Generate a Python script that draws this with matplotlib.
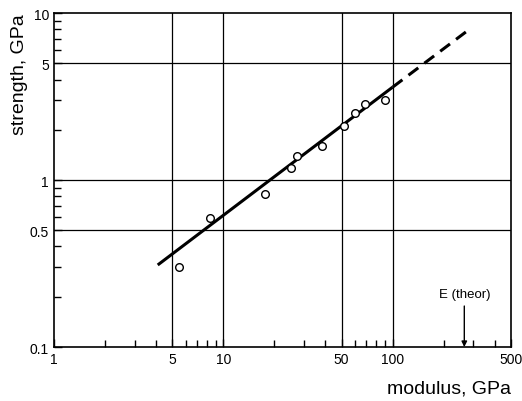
import matplotlib
matplotlib.use("Agg")
import matplotlib.pyplot as plt
from matplotlib.ticker import FixedLocator, NullFormatter

# measured points (modulus GPa, strength GPa)
modulus = [5.5, 8.4, 17.6, 25.0, 27.1, 38.1, 51.8, 60.0, 69.0, 90.6]
strength = [0.30, 0.59, 0.82, 1.18, 1.39, 1.61, 2.10, 2.53, 2.86, 3.03]

# fitted line, solid part and dashed extrapolation
fit_x = [4.1, 100]
fit_y = [0.31, 3.6]
ext_x = [100, 275]
ext_y = [3.6, 7.8]

e_theor = 265

xticks = [1, 5, 10, 50, 100, 500]
xticklabels = ["1", "5", "10", "50", "100", "500"]
yticks = [0.1, 0.5, 1, 5, 10]
yticklabels = ["0.1", "0.5", "1", "5", "10"]
xgrid = [5, 10, 50, 100]
ygrid = [0.5, 1, 5]

plt.rcParams['font.family'] = ['Liberation Sans', 'DejaVu Sans']

fig = plt.figure(figsize=(5.22, 4.02), dpi=100)
ax = fig.add_axes([0.1034, 0.1343, 0.8755, 0.8307])

ax.set_xscale('log')
ax.set_yscale('log')
ax.set_xlim(1, 500)
ax.set_ylim(0.1, 10)

for g in xgrid:
    ax.axvline(g, color='black', lw=0.9, zorder=1)
for g in ygrid:
    ax.axhline(g, color='black', lw=0.9, zorder=1)

ax.plot(fit_x, fit_y, color='black', lw=2.2, solid_capstyle='butt', zorder=3)
ax.plot(ext_x, ext_y, color='black', lw=2.2, dashes=(4, 2.5), zorder=3)
ax.plot(modulus, strength, 'o', mfc='white', mec='black', ms=5.5, mew=1.0, zorder=4)

ax.annotate("E (theor)", xy=(e_theor, 0.1), xytext=(e_theor, 0.19),
            ha='center', va='bottom', fontsize=9.5,
            arrowprops=dict(arrowstyle='-|>', color='black', lw=1.0, shrinkA=2, shrinkB=0,
                            mutation_scale=8))

ax.xaxis.set_major_locator(FixedLocator(xticks))
ax.set_xticklabels(xticklabels)
ax.yaxis.set_major_locator(FixedLocator(yticks))
ax.set_yticklabels(yticklabels)
ax.xaxis.set_minor_formatter(NullFormatter())
ax.yaxis.set_minor_formatter(NullFormatter())

ax.tick_params(which='both', direction='in', labelsize=10, top=False, right=False)
ax.tick_params(which='major', length=6, width=1)
ax.tick_params(which='minor', length=5, width=1)

for s in ax.spines.values():
    s.set_linewidth(1.2)

ax.set_ylabel("strength, GPa", fontsize=14, loc='top', labelpad=1)
ax.set_xlabel("modulus, GPa", fontsize=14, loc='right', labelpad=10)

fig.savefig("out.png", dpi=100)
